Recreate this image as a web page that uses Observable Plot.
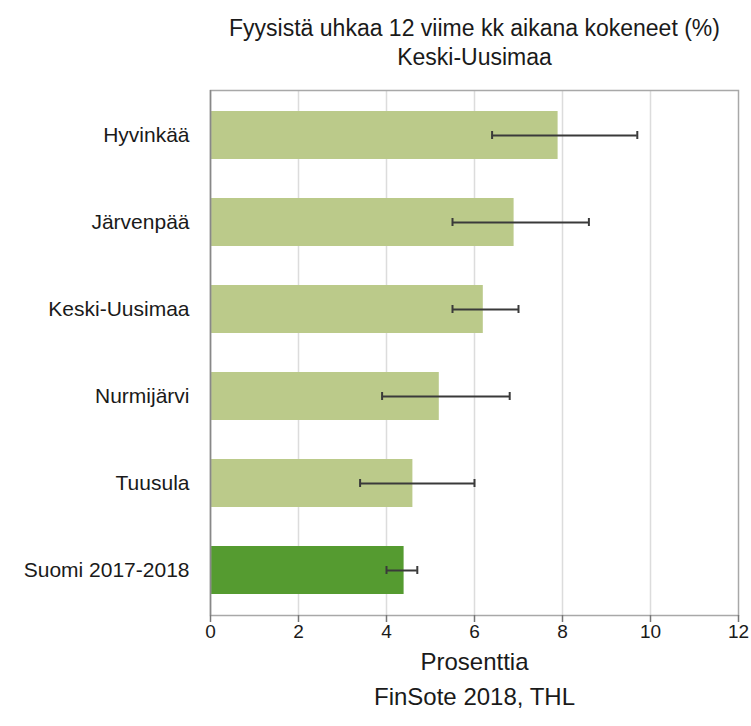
<!DOCTYPE html>
<html><head><meta charset="utf-8">
<script src="https://cdn.jsdelivr.net/npm/d3@7"></script>
<script src="https://cdn.jsdelivr.net/npm/@observablehq/plot@0.6"></script>
<style>body{margin:0;background:#fff;font-family:"Liberation Sans",Arial,sans-serif}</style>
</head><body><div id="chart"></div>
<script>
const categories = ["Hyvinkää","Järvenpää","Keski-Uusimaa","Nurmijärvi","Tuusula","Suomi 2017-2018"];
const values = [7.9, 6.9, 6.2, 5.2, 4.6, 4.4];
const lower = [6.4, 5.5, 5.5, 3.9, 3.4, 4.0];
const upper = [9.7, 8.6, 7.0, 6.8, 6.0, 4.7];
const groups = ["alue","alue","alue","alue","alue","koko maa"];
const xTicks = [0, 2, 4, 6, 8, 10, 12];
const gridTicks = [2, 4, 6, 8, 10];
const titleLines = ["Fyysistä uhkaa 12 viime kk aikana kokeneet (%)", "Keski-Uusimaa"];
const xLabel = "Prosenttia";
const caption = "FinSote 2018, THL";

const data = categories.map((c, i) => ({c, v: values[i], lo: lower[i], hi: upper[i], g: groups[i]}));

const plot = Plot.plot({
  width: 751, height: 726,
  marginTop: 90, marginBottom: 111, marginLeft: 210, marginRight: 13,
  style: {fontFamily: "'Liberation Sans', Arial, sans-serif", fontSize: "16px", color: "#1a1a1a", background: "#fff", overflow: "visible"},
  x: {domain: [0, 12], label: null},
  y: {domain: categories, paddingInner: 0.45, paddingOuter: 0.225, label: null},
  color: {domain: ["alue", "koko maa"], range: ["#bbca8a", "#559b30"]},
  marks: [
    Plot.ruleX(gridTicks, {stroke: "#dcdcdc", strokeWidth: 1.5}),
    Plot.barX(data, {x: "v", y: "c", fill: "g"}),
    Plot.ruleY(data, {x1: "lo", x2: "hi", y: "c", stroke: "#3a3a3a", strokeWidth: 2}),
    Plot.tickX(data, {x: "lo", y: "c", stroke: "#3a3a3a", strokeWidth: 2, insetTop: 20, insetBottom: 20}),
    Plot.tickX(data, {x: "hi", y: "c", stroke: "#3a3a3a", strokeWidth: 2, insetTop: 20, insetBottom: 20}),
    Plot.frame({stroke: "#a8a8a8", strokeWidth: 1.5}),
    Plot.ruleX([0], {stroke: "#888", strokeWidth: 1.5}),
    Plot.axisX({ticks: xTicks, tickSize: 7, tickPadding: 2, stroke: "#777", strokeWidth: 1.5, label: null, fill: "#1a1a1a", fontSize: 19}),
    Plot.ruleY([0], {frameAnchor: "bottom", stroke: "#888", strokeWidth: 1.5}),
    Plot.axisY({tickSize: 0, tickPadding: 21, label: null, fill: "#1a1a1a", fontSize: 21}),
    Plot.text([titleLines[0]], {frameAnchor: "top", lineAnchor: "middle", dy: -62, fontSize: 23, fill: "#1a1a1a"}),
    Plot.text([titleLines[1]], {frameAnchor: "top", lineAnchor: "middle", dy: -33, fontSize: 23, fill: "#1a1a1a"}),
    Plot.text([xLabel], {frameAnchor: "bottom", lineAnchor: "middle", dy: 47, fontSize: 24, fill: "#1a1a1a"}),
    Plot.text([caption], {frameAnchor: "bottom", lineAnchor: "middle", dy: 82, fontSize: 24, fill: "#1a1a1a"})
  ]
});
document.getElementById("chart").append(plot);
</script>
</body></html>
